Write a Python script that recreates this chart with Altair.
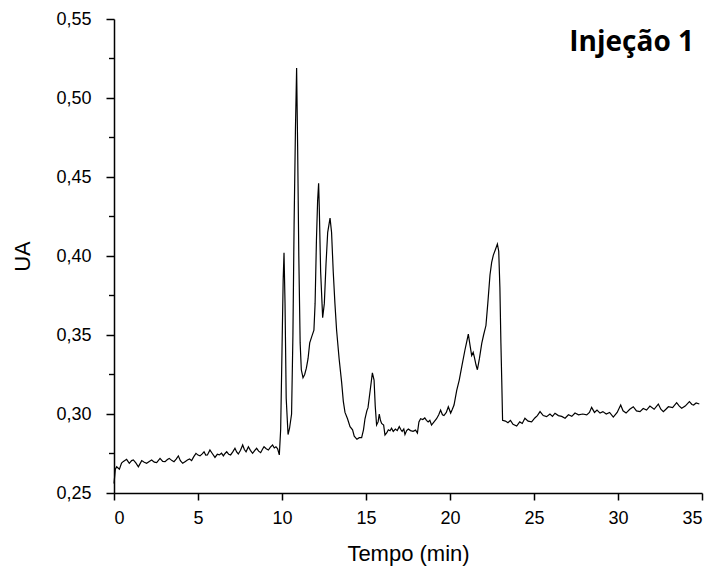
import altair as alt
import pandas as pd

# Chromatogram trace: time (min) and absorbance (UA)
time = [
    0.00, 0.08, 0.16, 0.32, 0.45, 0.56, 0.75, 0.91, 1.05, 1.15, 1.30, 1.45, 1.65, 1.80, 1.94,
    2.10, 2.24, 2.40, 2.54, 2.74, 2.90, 3.04, 3.18, 3.29, 3.45, 3.57, 3.70, 3.83, 3.95, 4.09,
    4.25, 4.37, 4.50, 4.62, 4.75, 4.88, 5.00, 5.12, 5.25, 5.36, 5.46, 5.56, 5.71, 5.85, 6.01,
    6.15, 6.27, 6.40, 6.51, 6.61, 6.71, 6.83, 6.94, 7.07, 7.20, 7.30, 7.40, 7.53, 7.66, 7.76,
    7.86, 8.00, 8.12, 8.25, 8.37, 8.49, 8.61, 8.73, 8.83, 8.93, 9.06, 9.19, 9.31, 9.44, 9.54,
    9.64, 9.74, 9.84, 9.92, 10.00, 10.07, 10.12, 10.18, 10.25, 10.36, 10.45, 10.57, 10.65,
    10.72, 10.80, 10.87, 10.93, 11.00, 11.08, 11.15, 11.25, 11.35, 11.45, 11.55, 11.65, 11.77,
    11.90, 11.97, 12.05, 12.12, 12.18, 12.22, 12.30, 12.42, 12.52, 12.62, 12.72, 12.86, 12.95,
    13.05, 13.15, 13.25, 13.40, 13.55, 13.65, 13.75, 13.90, 14.05, 14.20, 14.30, 14.46, 14.60,
    14.74, 14.85, 14.94, 15.05, 15.12, 15.25, 15.38, 15.48, 15.55, 15.63, 15.72, 15.79, 15.86,
    15.93, 16.05, 16.13, 16.23, 16.33, 16.43, 16.52, 16.62, 16.75, 16.86, 16.98, 17.08, 17.15,
    17.25, 17.32, 17.42, 17.52, 17.65, 17.80, 17.95, 18.06, 18.15, 18.25, 18.38, 18.50, 18.60,
    18.70, 18.80, 18.90, 19.05, 19.20, 19.33, 19.44, 19.55, 19.64, 19.78, 19.90, 20.04, 20.14,
    20.24, 20.40, 20.55, 20.70, 20.89, 21.00, 21.09, 21.20, 21.29, 21.38, 21.45, 21.55, 21.63,
    21.75, 21.89, 22.00, 22.14, 22.25, 22.38, 22.48, 22.58, 22.70, 22.82, 22.90, 22.97, 23.03,
    23.08, 23.13, 23.30, 23.45, 23.60, 23.75, 23.97, 24.15, 24.30, 24.46, 24.65, 24.86, 25.05,
    25.20, 25.36, 25.55, 25.75, 25.95, 26.10, 26.25, 26.45, 26.65, 26.85, 27.05, 27.25, 27.44,
    27.65, 27.90, 28.14, 28.30, 28.43, 28.60, 28.75, 28.93, 29.10, 29.30, 29.50, 29.72, 29.95,
    30.16, 30.30, 30.48, 30.70, 30.91, 31.10, 31.31, 31.50, 31.70, 31.90, 32.15, 32.40, 32.55,
    32.70, 32.85, 33.00, 33.25, 33.49, 33.65, 33.79, 34.00, 34.25, 34.40, 34.50, 34.65, 34.84,
]
ua = [
    0.2560, 0.2650, 0.2666, 0.2650, 0.2690, 0.2700, 0.2713, 0.2688, 0.2705, 0.2709, 0.2690,
    0.2666, 0.2705, 0.2695, 0.2688, 0.2700, 0.2709, 0.2695, 0.2692, 0.2719, 0.2700, 0.2698,
    0.2712, 0.2719, 0.2705, 0.2698, 0.2715, 0.2735, 0.2705, 0.2688, 0.2700, 0.2709, 0.2715,
    0.2705, 0.2730, 0.2751, 0.2740, 0.2735, 0.2748, 0.2761, 0.2740, 0.2741, 0.2772, 0.2750,
    0.2725, 0.2745, 0.2741, 0.2752, 0.2735, 0.2750, 0.2761, 0.2745, 0.2741, 0.2760, 0.2783,
    0.2760, 0.2747, 0.2770, 0.2804, 0.2775, 0.2761, 0.2793, 0.2770, 0.2751, 0.2768, 0.2783,
    0.2765, 0.2755, 0.2775, 0.2793, 0.2780, 0.2772, 0.2790, 0.2804, 0.2785, 0.2793, 0.2780,
    0.2741, 0.2900, 0.3400, 0.3850, 0.4020, 0.3700, 0.3100, 0.2870, 0.2910, 0.3000, 0.3500,
    0.4200, 0.4800, 0.5190, 0.4700, 0.4000, 0.3450, 0.3280, 0.3230, 0.3250, 0.3290, 0.3350,
    0.3450, 0.3490, 0.3530, 0.3700, 0.4100, 0.4350, 0.4460, 0.4300, 0.3900, 0.3610, 0.3700,
    0.3950, 0.4150, 0.4240, 0.4150, 0.3900, 0.3700, 0.3530, 0.3350, 0.3200, 0.3080, 0.3010,
    0.2970, 0.2920, 0.2900, 0.2860, 0.2840, 0.2850, 0.2850, 0.2900, 0.2970, 0.3020, 0.3040,
    0.3150, 0.3260, 0.3215, 0.3050, 0.2930, 0.2950, 0.3000, 0.2960, 0.2940, 0.2930, 0.2867,
    0.2880, 0.2900, 0.2894, 0.2910, 0.2890, 0.2905, 0.2895, 0.2920, 0.2900, 0.2890, 0.2905,
    0.2870, 0.2895, 0.2905, 0.2895, 0.2890, 0.2898, 0.2880, 0.2950, 0.2970, 0.2965, 0.2975,
    0.2960, 0.2950, 0.2960, 0.2930, 0.2950, 0.2970, 0.2995, 0.3025, 0.2995, 0.2990, 0.3010,
    0.3046, 0.3006, 0.3030, 0.3057, 0.3150, 0.3215, 0.3300, 0.3405, 0.3460, 0.3506, 0.3430,
    0.3370, 0.3390, 0.3360, 0.3310, 0.3280, 0.3350, 0.3447, 0.3500, 0.3560, 0.3700, 0.3880,
    0.3960, 0.4006, 0.4040, 0.4076, 0.4030, 0.3800, 0.3450, 0.3215, 0.2960, 0.2955, 0.2945,
    0.2960, 0.2935, 0.2924, 0.2950, 0.2940, 0.2973, 0.2955, 0.2950, 0.2975, 0.2990, 0.3015,
    0.2990, 0.2983, 0.3000, 0.2985, 0.3005, 0.2990, 0.2985, 0.2973, 0.2995, 0.2985, 0.3006,
    0.2995, 0.3000, 0.2994, 0.3010, 0.3042, 0.3010, 0.3025, 0.3006, 0.3015, 0.3000, 0.3010,
    0.2980, 0.3010, 0.3057, 0.3020, 0.3006, 0.3030, 0.3046, 0.3020, 0.3015, 0.3035, 0.3025,
    0.3050, 0.3030, 0.3063, 0.3030, 0.3015, 0.3030, 0.3046, 0.3040, 0.3072, 0.3050, 0.3036,
    0.3050, 0.3078, 0.3060, 0.3057, 0.3070, 0.3063,
]

x_ticks = [0, 5, 10, 15, 20, 25, 30, 35]
y_ticks = [0.25, 0.30, 0.35, 0.40, 0.45, 0.50, 0.55]
y_minor = [0.275, 0.325, 0.375, 0.425, 0.475, 0.525]
title_text = ["Injeção 1"]

df = pd.DataFrame({"t": time, "ua": ua})
minor_df = pd.DataFrame({"ua": y_minor})
label_df = pd.DataFrame({"label": title_text})

x_scale = alt.Scale(domain=[0, 35], nice=False, zero=False)
y_scale = alt.Scale(domain=[0.25, 0.55], nice=False, zero=False)

line = alt.Chart(df).mark_line(color="black", strokeWidth=1.2).encode(
    x=alt.X("t:Q", scale=x_scale,
            axis=alt.Axis(values=x_ticks, title="Tempo (min)", format="d",
                          tickSize=7, labelPadding=9, titlePadding=16)),
    y=alt.Y("ua:Q", scale=y_scale,
            axis=alt.Axis(values=y_ticks, title="UA", tickSize=8, labelPadding=15,
                          titlePadding=21,
                          labelExpr="replace(format(datum.value, '.2f'), '.', ',')")),
)

minor = alt.Chart(minor_df).mark_rule(color="black", strokeWidth=1.4).encode(
    y=alt.Y("ua:Q", scale=y_scale),
    x=alt.value(-5),
    x2=alt.value(0),
)

label = alt.Chart(label_df).mark_text(
    font="Open Sans", fontSize=28, fontWeight="bold", align="right",
    baseline="alphabetic", color="black",
).encode(
    x=alt.value(580),
    y=alt.value(32),
    text="label:N",
)

chart = alt.layer(line, minor, label).properties(
    width=588,
    height=474,
    padding={"left": 114, "top": 19, "right": 10, "bottom": 74},
    autosize="none",
).configure_view(stroke=None).configure_axis(
    grid=False,
    domainColor="black",
    domainWidth=1.5,
    tickColor="black",
    tickWidth=1.5,
    labelColor="black",
    titleColor="black",
    labelFont="Liberation Sans",
    titleFont="Liberation Sans",
    labelFontSize=18,
    titleFontSize=22,
    titleFontWeight="normal",
)

chart.save("out.html", embed_options={"renderer": "svg", "actions": False})
